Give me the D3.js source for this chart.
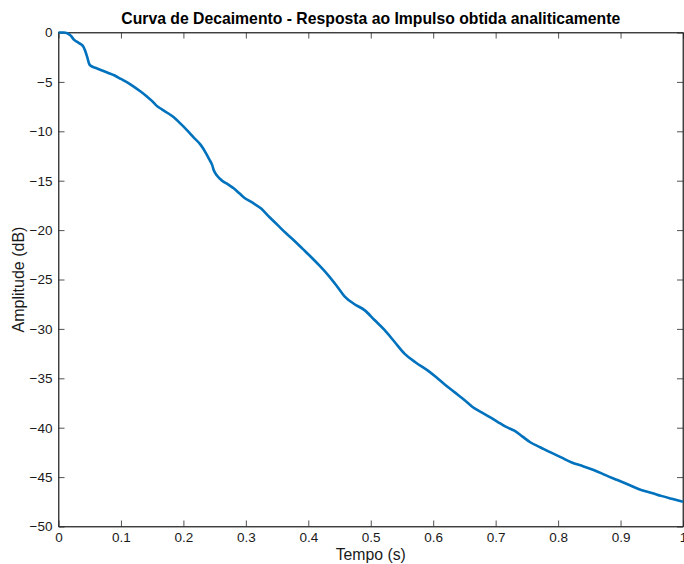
<!DOCTYPE html>
<html>
<head>
<meta charset="utf-8">
<script src="https://cdn.jsdelivr.net/npm/d3@7"></script>
<style>
  html, body { margin: 0; padding: 0; background: #fff; }
  svg { display: block; font-family: "Liberation Sans", Arial, Helvetica, sans-serif; }
</style>
</head>
<body>
<svg id="chart" width="684" height="564"></svg>
<script>
// Decay curve (Schroeder integration) of the analytically obtained impulse response
const tempo = [
  0.000, 0.008, 0.014, 0.020, 0.025, 0.030, 0.035, 0.040, 0.043, 0.046, 0.049, 0.051,
  0.060, 0.070, 0.078, 0.090, 0.100, 0.110, 0.121, 0.132, 0.142, 0.150, 0.156, 0.166,
  0.176, 0.185, 0.195, 0.206, 0.216, 0.228, 0.236, 0.241, 0.246, 0.249, 0.254, 0.262,
  0.272, 0.281, 0.290, 0.297, 0.310, 0.324, 0.338, 0.351, 0.364, 0.378, 0.391, 0.404,
  0.418, 0.431, 0.445, 0.458, 0.474, 0.490, 0.506, 0.522, 0.538, 0.554, 0.572, 0.591,
  0.605, 0.618, 0.634, 0.650, 0.663, 0.676, 0.690, 0.703, 0.716, 0.730, 0.743, 0.756,
  0.772, 0.788, 0.805, 0.821, 0.840, 0.858, 0.876, 0.895, 0.914, 0.933, 0.950, 0.965,
  0.982, 1.000
];
const amplitude = [
  0.00, 0.00, -0.08, -0.35, -0.75, -0.95, -1.15, -1.45, -1.90, -2.50, -3.15, -3.35,
  -3.60, -3.85, -4.05, -4.35, -4.70, -5.05, -5.50, -6.00, -6.50, -6.95, -7.35, -7.80,
  -8.20, -8.60, -9.20, -9.90, -10.60, -11.40, -12.20, -12.80, -13.40, -14.00, -14.50, -15.00,
  -15.40, -15.80, -16.30, -16.70, -17.20, -17.80, -18.70, -19.50, -20.30, -21.10, -21.90, -22.70,
  -23.60, -24.50, -25.60, -26.70, -27.50, -28.10, -29.10, -30.10, -31.30, -32.50, -33.40, -34.20,
  -34.90, -35.60, -36.40, -37.20, -37.90, -38.40, -38.90, -39.40, -39.90, -40.30, -40.90, -41.50,
  -42.00, -42.50, -43.00, -43.50, -43.90, -44.30, -44.80, -45.30, -45.80, -46.30, -46.60, -46.90,
  -47.20, -47.50
];

const xTicks = [0, 0.1, 0.2, 0.3, 0.4, 0.5, 0.6, 0.7, 0.8, 0.9, 1];
const yTicks = [0, -5, -10, -15, -20, -25, -30, -35, -40, -45, -50];

const titulo = "Curva de Decaimento - Resposta ao Impulso obtida analiticamente";
const rotuloX = "Tempo (s)";
const rotuloY = "Amplitude (dB)";

const svg = d3.select("#chart");
const margin = { left: 58.5, right: 1, top: 32.5, bottom: 37.5 };
const W = 684, H = 564;
const pw = W - margin.left - margin.right;
const ph = H - margin.top - margin.bottom;

const x = d3.scaleLinear().domain([0, 1]).range([margin.left, margin.left + pw]);
const y = d3.scaleLinear().domain([-50, 0]).range([margin.top + ph, margin.top]);

const axisColor = "#262626";
const tickLen = 6;

const g = svg.append("g");

// bottom axis with inward ticks
g.append("g")
  .attr("transform", `translate(0,${margin.top + ph})`)
  .call(d3.axisBottom(x).tickValues(xTicks).tickSizeInner(-tickLen).tickSizeOuter(0)
    .tickPadding(6).tickFormat(d3.format("~g")));
// left axis with inward ticks
g.append("g")
  .attr("transform", `translate(${margin.left},0)`)
  .call(d3.axisLeft(y).tickValues(yTicks).tickSizeInner(-tickLen).tickSizeOuter(0)
    .tickPadding(6).tickFormat(d3.format("~g")));
// top and right ticks (box)
g.append("g")
  .attr("transform", `translate(0,${margin.top})`)
  .call(d3.axisTop(x).tickValues(xTicks).tickSizeInner(-tickLen).tickSizeOuter(0).tickFormat(""));
g.append("g")
  .attr("transform", `translate(${margin.left + pw},0)`)
  .call(d3.axisRight(y).tickValues(yTicks).tickSizeInner(-tickLen).tickSizeOuter(0).tickFormat(""));

g.selectAll(".domain").attr("stroke", axisColor).attr("stroke-width", 0.8);
g.selectAll(".tick line").attr("stroke", axisColor).attr("stroke-width", 0.8);
g.selectAll(".tick text").attr("fill", "#1a1a1a").style("font-size", "13.5px")
  .style("font-family", "'Liberation Sans', Arial, sans-serif");

// box outline
g.append("rect")
  .attr("x", margin.left).attr("y", margin.top)
  .attr("width", pw).attr("height", ph)
  .attr("fill", "none").attr("stroke", axisColor).attr("stroke-width", 0.8);

// decay curve
const data = tempo.map((t, i) => [t, amplitude[i]]);
svg.append("path")
  .datum(data)
  .attr("fill", "none")
  .attr("stroke", "#0072BD")
  .attr("stroke-width", 2.6)
  .attr("stroke-linejoin", "round")
  .attr("d", d3.line().curve(d3.curveMonotoneX).x(d => x(d[0])).y(d => y(d[1])));

// title and axis labels
svg.append("text")
  .attr("x", margin.left + pw / 2).attr("y", 24)
  .attr("text-anchor", "middle")
  .style("font-size", "15.75px").style("font-weight", "bold").attr("fill", "#000")
  .text(titulo);

svg.append("text")
  .attr("x", margin.left + pw / 2).attr("y", 560)
  .attr("text-anchor", "middle")
  .style("font-size", "15.8px").attr("fill", "#1a1a1a")
  .text(rotuloX);

svg.append("text")
  .attr("transform", `translate(24,${margin.top + ph / 2}) rotate(-90)`)
  .attr("text-anchor", "middle")
  .style("font-size", "16px").attr("fill", "#1a1a1a")
  .text(rotuloY);
</script>
</body>
</html>
